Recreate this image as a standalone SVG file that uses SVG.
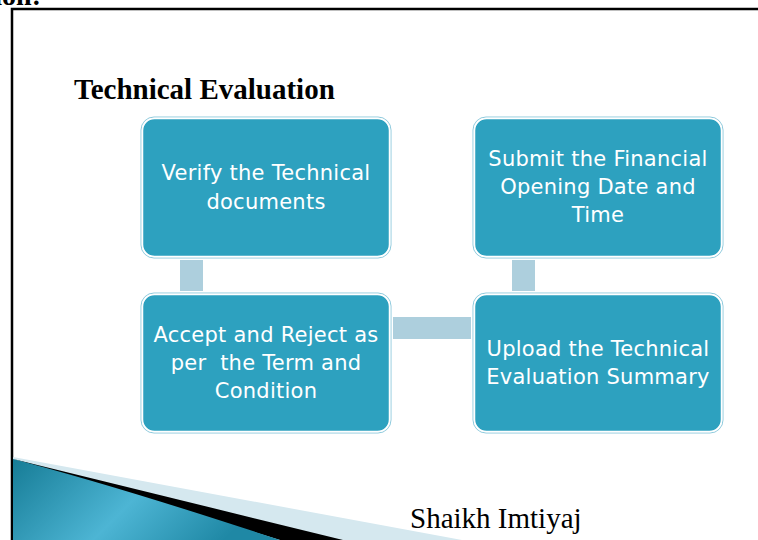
<svg xmlns="http://www.w3.org/2000/svg" width="758" height="540" viewBox="0 0 758 540">
<defs>
<linearGradient id="teal" x1="0" y1="0" x2="1" y2="0.3">
<stop offset="0" stop-color="#167C96"/>
<stop offset="0.55" stop-color="#4DB5D4"/>
<stop offset="1" stop-color="#1F88A5"/>
</linearGradient>
<style>
.box{fill:#2DA1BF;stroke:#FFFFFF;stroke-width:1.5}
.edge{fill:none;stroke:#8ECADD;stroke-width:1}
.lbl{font-family:"DejaVu Sans",sans-serif;font-size:21px;letter-spacing:0.25px;fill:#FFFFFF;text-anchor:middle}
.conn{fill:#ADCFDD}
</style>
</defs>
<rect width="758" height="540" fill="#FFFFFF"/>
<text x="41" y="5" font-family="Liberation Serif, serif" font-weight="bold" font-size="28" text-anchor="end" fill="#000">tion:</text>
<path d="M12,540 V9 H758" fill="none" stroke="#000" stroke-width="2.5"/>

<g id="decoration">
<path d="M13,457 L462,540 L13,540 Z" fill="#D5E8EF"/>
<path d="M13,459 L343,540 L280,540 Z" fill="#000"/>
<path d="M13,459 Q120,487 280,540 L13,540 Z" fill="url(#teal)"/>
</g>

<text x="74" y="99" font-family="Liberation Serif, serif" font-weight="bold" font-size="29" fill="#000">Technical Evaluation</text>

<g id="connectors">
<rect class="conn" x="180" y="260" width="23" height="31"/>
<rect class="conn" x="512" y="260" width="23" height="31"/>
<rect class="conn" x="393" y="317" width="78" height="22"/>
</g>

<g id="n1">
<rect class="edge" x="141" y="117" width="250" height="141" rx="13"/>
<rect class="box" x="142.5" y="118.5" width="247" height="138" rx="12"/>
<text class="lbl"><tspan x="266" y="180">Verify the Technical</tspan><tspan x="266" y="209">documents</tspan></text>
</g>
<g id="n2">
<rect class="edge" x="473" y="117" width="250" height="141" rx="13"/>
<rect class="box" x="474.5" y="118.5" width="247" height="138" rx="12"/>
<text class="lbl"><tspan x="598" y="166">Submit the Financial</tspan><tspan x="598" y="194">Opening Date and</tspan><tspan x="598" y="222">Time</tspan></text>
</g>
<g id="n3">
<rect class="edge" x="141" y="293" width="250" height="140" rx="13"/>
<rect class="box" x="142.5" y="294.5" width="247" height="137" rx="12"/>
<text class="lbl" xml:space="preserve"><tspan x="266" y="342">Accept and Reject as</tspan><tspan x="266" y="370">per  the Term and</tspan><tspan x="266" y="398">Condition</tspan></text>
</g>
<g id="n4">
<rect class="edge" x="473" y="293" width="250" height="140" rx="13"/>
<rect class="box" x="474.5" y="294.5" width="247" height="137" rx="12"/>
<text class="lbl"><tspan x="598" y="356">Upload the Technical</tspan><tspan x="598" y="384">Evaluation Summary</tspan></text>
</g>

<text x="410" y="528" font-family="Liberation Serif, serif" font-size="29" fill="#000">Shaikh Imtiyaj</text>
</svg>
